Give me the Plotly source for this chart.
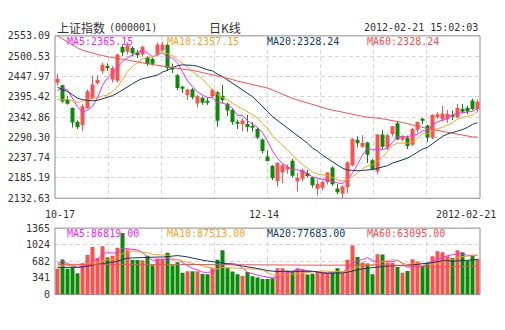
import plotly.graph_objects as go

# ---------------- data ----------------
dates = [
    "2011-10-17", "2011-10-18", "2011-10-19", "2011-10-20", "2011-10-21", "2011-10-24",
    "2011-10-25", "2011-10-26", "2011-10-27", "2011-10-28", "2011-10-31",
    "2011-11-01", "2011-11-02", "2011-11-03", "2011-11-04", "2011-11-07", "2011-11-08",
    "2011-11-09", "2011-11-10", "2011-11-11", "2011-11-14", "2011-11-15", "2011-11-16",
    "2011-11-17", "2011-11-18", "2011-11-21", "2011-11-22", "2011-11-23", "2011-11-24",
    "2011-11-25", "2011-11-28", "2011-11-29", "2011-11-30",
    "2011-12-01", "2011-12-02", "2011-12-05", "2011-12-06", "2011-12-07", "2011-12-08",
    "2011-12-09", "2011-12-12", "2011-12-13", "2011-12-14", "2011-12-15", "2011-12-16",
    "2011-12-19", "2011-12-20", "2011-12-21", "2011-12-22", "2011-12-23", "2011-12-26",
    "2011-12-27", "2011-12-28", "2011-12-29", "2011-12-30",
    "2012-01-04", "2012-01-05", "2012-01-06", "2012-01-09", "2012-01-10", "2012-01-11",
    "2012-01-12", "2012-01-13", "2012-01-16", "2012-01-17", "2012-01-18", "2012-01-19",
    "2012-01-20", "2012-01-30", "2012-01-31",
    "2012-02-01", "2012-02-02", "2012-02-03", "2012-02-06", "2012-02-07", "2012-02-08",
    "2012-02-09", "2012-02-10", "2012-02-13", "2012-02-14", "2012-02-15", "2012-02-16",
    "2012-02-17", "2012-02-20", "2012-02-21",
]

open_ = [
    2432, 2425, 2387, 2366, 2331, 2322, 2366, 2393, 2431, 2462, 2475,
    2440, 2437, 2524, 2512, 2522, 2510, 2505, 2497, 2493, 2505, 2515, 2530,
    2472, 2451, 2420, 2400, 2415, 2378, 2393, 2385, 2397, 2407,
    2398, 2377, 2362, 2328, 2324, 2325, 2318, 2312, 2285, 2241, 2217, 2177,
    2200, 2207, 2230, 2176, 2183, 2198, 2187, 2157, 2160, 2175,
    2212, 2158, 2145, 2162, 2218, 2284, 2266, 2277, 2231, 2202, 2298, 2264,
    2299, 2327, 2284,
    2289, 2271, 2310, 2338, 2321, 2289, 2343, 2338, 2338, 2349, 2342, 2364,
    2366, 2386, 2363,
]
high = [
    2455, 2427, 2397, 2368, 2334, 2377, 2414, 2450, 2451, 2484, 2482,
    2475, 2507, 2530, 2536, 2526, 2516, 2528, 2500, 2497, 2536, 2537, 2534,
    2481, 2455, 2424, 2416, 2418, 2400, 2396, 2394, 2416, 2410,
    2426, 2381, 2366, 2336, 2340, 2348, 2330, 2316, 2288, 2256, 2218, 2226,
    2222, 2220, 2235, 2198, 2209, 2206, 2189, 2181, 2178, 2200,
    2215, 2170, 2167, 2228, 2288, 2293, 2296, 2279, 2234, 2299, 2310, 2300,
    2320, 2330, 2296,
    2295, 2315, 2332, 2341, 2323, 2350, 2356, 2372, 2361, 2360, 2377, 2377,
    2372, 2390, 2388,
]
low = [
    2425, 2379, 2375, 2316, 2312, 2307, 2364, 2389, 2427, 2455, 2462,
    2432, 2432, 2500, 2505, 2500, 2496, 2500, 2475, 2476, 2500, 2512, 2462,
    2457, 2412, 2405, 2387, 2389, 2368, 2375, 2374, 2393, 2318,
    2378, 2345, 2323, 2312, 2306, 2305, 2305, 2286, 2249, 2228, 2180, 2163,
    2172, 2196, 2186, 2150, 2176, 2186, 2160, 2140, 2153, 2168,
    2165, 2143, 2132.63, 2146, 2215, 2264, 2264, 2224, 2206, 2194, 2260, 2258,
    2293, 2283, 2280,
    2260, 2268, 2302, 2325, 2278, 2286, 2338, 2332, 2328, 2335, 2341, 2352,
    2350, 2360, 2355,
]
close = [
    2442, 2383, 2377, 2329, 2317, 2371, 2410, 2427, 2439, 2478, 2469,
    2470, 2505, 2510, 2528, 2508, 2503, 2524, 2480, 2481, 2530, 2530, 2470,
    2466, 2418, 2416, 2414, 2394, 2397, 2380, 2381, 2414, 2333,
    2387, 2360, 2330, 2326, 2334, 2317, 2315, 2290, 2255, 2229, 2185, 2224,
    2218, 2214, 2191, 2186, 2206, 2190, 2166, 2170, 2175, 2199,
    2169, 2148, 2163, 2226, 2286, 2275, 2276, 2245, 2207, 2298, 2266, 2296,
    2319, 2285, 2292.6,
    2268, 2312, 2330, 2334.7, 2290, 2348, 2350, 2352, 2351, 2344.75, 2366, 2356.4,
    2357.2, 2363.8, 2382.35,
]
volume = [
    57500, 77500, 57400, 61500, 47500, 69500, 87800, 105500, 80800, 107000, 82200,
    85800, 103500, 136500, 100000, 77200, 76500, 75800, 85800, 65200, 80000, 79600, 92500,
    64800, 71500, 48500, 51700, 51500, 51800, 45400, 45300, 59400, 76900,
    98400, 60200, 51000, 45200, 41100, 50300, 40400, 37900, 34400, 34700, 36100, 58100,
    58400, 53500, 49900, 58400, 55600, 44300, 46400, 51400, 48500, 48600,
    48400, 58400, 48500, 76900, 108800, 83200, 71200, 69100, 45000, 89240, 88900, 71200,
    69800, 61300, 48500,
    52100, 78300, 73300, 64100, 71030, 85000, 96000, 94000, 85000, 81035, 98000, 94000,
    75000, 87500, 79595,
]

# sessions before 2011-10-17 (2011-09-13 .. 2011-10-14), needed for the short averages
history_close = [2497, 2490, 2493, 2497, 2440, 2450, 2452, 2411, 2400, 2378,
                 2400, 2366, 2365, 2359, 2345, 2348, 2407, 2430, 2431]
history_volume = [61000, 57000, 55000, 61000, 52000, 55000, 53000, 61000, 57000, 53000,
                  64000, 56000, 52000, 48000, 60000, 56000, 82000, 80000, 70000]

# 60-day averages for the first 59 sessions (their window reaches back past the data above)
ma60_close_lead = [
    2553.09, 2545, 2537, 2529, 2522, 2516, 2512, 2508, 2505, 2502, 2499, 2497, 2495,
    2493, 2491, 2489, 2486, 2483, 2481, 2478, 2476, 2474, 2472, 2470, 2468, 2467,
    2465, 2464, 2461, 2458, 2455, 2452, 2450, 2447, 2443, 2440, 2436, 2433, 2430,
    2427, 2424, 2421, 2418, 2413, 2407, 2402, 2397, 2391, 2387, 2383, 2379, 2375,
    2371, 2367, 2364, 2361, 2358, 2355, 2352,
]
ma60_volume_lead = [
    67000, 66900, 66900, 66800, 66800, 66900, 66900, 66800, 66800, 66900, 66900, 66800,
    66800, 66900, 67000, 66900, 66800, 66800, 66900, 66800, 66700, 66800, 66900, 66800,
    66700, 66700, 66800, 66800, 66700, 66700, 66600, 66700, 66700, 66800, 66700, 66600,
    66600, 66500, 66500, 66600, 66500, 66400, 65300, 65200, 65300, 65200, 65200, 65100,
    65200, 65200, 65100, 65100, 65000, 65100, 65100, 65000, 65100, 65000, 65000,
]

price_tick_labels = ["2132.63", "2185.19", "2237.74", "2290.30", "2342.86",
                     "2395.42", "2447.97", "2500.53", "2553.09"]
price_ma_quotes = [2365.15, 2357.15, 2328.24, 2328.24]
quote_time = "15:02:03"
index_name = "上证指数"
index_code = "(000001)"
period_name = "日K线"

# ---------------- derived series ----------------
n = len(close)
idx = list(range(n))


def moving_average(values, history, window):
    full = list(history) + list(values)
    h = len(history)
    return [sum(full[h + i - window + 1:h + i + 1]) / window for i in range(len(values))]


def long_average(values, lead, window=60):
    out = list(lead)
    for i in range(len(lead), len(values)):
        out.append(sum(values[i - window + 1:i + 1]) / window)
    return out


ma_close = [moving_average(close, history_close, w) for w in (5, 10, 20)]
ma_close.append(long_average(close, ma60_close_lead))
ma_volume = [moving_average(volume, history_volume, w) for w in (5, 10, 20)]
ma_volume.append(long_average(volume, ma60_volume_lead))

# ---------------- styling ----------------
W, H = 505, 330
PLOT_L, PLOT_R = 55, 480
PRICE_T, PRICE_B = 31, 199.5
VOL_T, VOL_B = 230.5, 299.5

RED = "#ff5050"
GREEN = "#0a8c0a"
MA_COLORS = ["#ff22ff", "#ffa31a", "#0c3a6b", "#ff4d4d"]
MA_NAMES = ["MA5", "MA10", "MA20", "MA60"]
GRID = "#d6d6d6"
BORDER = "#8c8c8c"
TEXT = "#333333"
MONO = "DejaVu Sans Mono"
CJK = "Noto Sans CJK SC"


def fx(px):
    return px / W


def fy(px):
    return 1 - px / H


up = [c >= o for o, c in zip(open_, close)]
bar_colors = [RED if u else GREEN for u in up]

fig = go.Figure()

# candle wicks
for flag, color in ((True, RED), (False, GREEN)):
    wx, wy = [], []
    for i in idx:
        if up[i] == flag:
            wx += [i, i, None]
            wy += [low[i], high[i], None]
    fig.add_trace(go.Scatter(x=wx, y=wy, mode="lines", line=dict(color=color, width=1),
                             hoverinfo="skip", xaxis="x", yaxis="y"))

# candle bodies
fig.add_trace(go.Bar(
    x=idx,
    base=[min(o, c) for o, c in zip(open_, close)],
    y=[abs(c - o) for o, c in zip(open_, close)],
    width=0.8, marker=dict(color=bar_colors, line=dict(width=0)),
    xaxis="x", yaxis="y", hoverinfo="skip",
))

# price moving averages
for series, color in zip(ma_close, MA_COLORS):
    fig.add_trace(go.Scatter(x=idx, y=series, mode="lines", line=dict(color=color, width=1),
                             xaxis="x", yaxis="y", hoverinfo="skip"))

# volume bars
fig.add_trace(go.Bar(x=idx, y=volume, width=0.8,
                     marker=dict(color=bar_colors, line=dict(width=0)),
                     xaxis="x2", yaxis="y2", hoverinfo="skip"))

# volume moving averages
for series, color in zip(ma_volume, MA_COLORS):
    fig.add_trace(go.Scatter(x=idx, y=series, mode="lines", line=dict(color=color, width=1),
                             xaxis="x2", yaxis="y2", hoverinfo="skip"))

# ---------------- axes ----------------
grid_x = [k * n / 8 - 0.5 for k in range(1, 8)]
xaxis_common = dict(
    range=[-0.5, n - 0.5], tickvals=grid_x, showticklabels=False, ticks="",
    showgrid=True, gridcolor=GRID, gridwidth=1, griddash="4px,3px",
    zeroline=False, showline=False, fixedrange=True,
)

price_vals = [float(t) for t in price_tick_labels]
vmax = max(volume)
vol_top = vmax * 1.078
vol_fracs = [0, 0.25, 0.5, 0.75, 1.0]

fig.update_layout(
    width=W, height=H,
    margin=dict(l=0, r=0, t=0, b=0),
    paper_bgcolor="white", plot_bgcolor="white",
    showlegend=False, barmode="overlay",
    xaxis=dict(domain=[fx(PLOT_L), fx(PLOT_R)], anchor="y", **xaxis_common),
    xaxis2=dict(domain=[fx(PLOT_L), fx(PLOT_R)], anchor="y2", **xaxis_common),
    yaxis=dict(
        domain=[fy(PRICE_B), fy(PRICE_T)], anchor="x",
        range=[min(low), max(max(high), max(ma_close[3]))],
        tickvals=price_vals, ticktext=price_tick_labels, ticks="",
        ticklabelstandoff=4,
        tickfont=dict(family=MONO, size=10, color=TEXT),
        showgrid=True, gridcolor=GRID, gridwidth=1, griddash="4px,3px",
        zeroline=False, showline=False, fixedrange=True,
    ),
    yaxis2=dict(
        domain=[fy(VOL_B), fy(VOL_T)], anchor="x2",
        range=[0, vol_top],
        tickvals=[f * vol_top for f in vol_fracs],
        ticktext=[f"{vmax * f / 100:.0f}" for f in vol_fracs], ticks="",
        ticklabelstandoff=4,
        tickfont=dict(family=MONO, size=10, color=TEXT),
        showgrid=True, gridcolor=GRID, gridwidth=1, griddash="4px,3px",
        zeroline=False, showline=False, fixedrange=True,
    ),
)

# frames around both panes
for top, bottom in ((PRICE_T, PRICE_B), (VOL_T, VOL_B)):
    fig.add_shape(type="rect", xref="paper", yref="paper",
                  x0=fx(PLOT_L), x1=fx(PLOT_R), y0=fy(bottom), y1=fy(top),
                  line=dict(color=BORDER, width=1), layer="above")

# ---------------- text ----------------
def note(text, x, y, anchor="left", family=MONO, size=10, color=TEXT):
    fig.add_annotation(text=text, xref="paper", yref="paper", x=fx(x), y=fy(y),
                       xanchor=anchor, yanchor="middle", showarrow=False,
                       font=dict(family=family, size=size, color=color))


note(index_name, 55, 22, family=CJK, size=12)
note(index_code, 107, 22)
note(period_name, 224.5, 22, anchor="center", family=CJK, size=12)
note(f"{dates[-1]} {quote_time}", 480, 22, anchor="right")

for k, (name, color) in enumerate(zip(MA_NAMES, MA_COLORS)):
    note(f"{name}:{price_ma_quotes[k]:.2f}", 65 + 100 * k, 36.7, color=color)
    note(f"{name}:{ma_volume[k][-1]:.2f}", 65 + 100 * k, 236.5, color=color)

# date labels under the price pane
for i, text, anchor, shift in ((0, dates[0][5:], "center", 2),
                               (n // 2, dates[n // 2][5:], "center", -4),
                               (n - 1, dates[-1], "right", 20)):
    fig.add_annotation(text=text, xref="x", yref="paper", x=i, y=fy(216.7),
                       xanchor=anchor, yanchor="middle", xshift=shift, showarrow=False,
                       font=dict(family=MONO, size=10, color=TEXT))

fig.write_html("out.html")
